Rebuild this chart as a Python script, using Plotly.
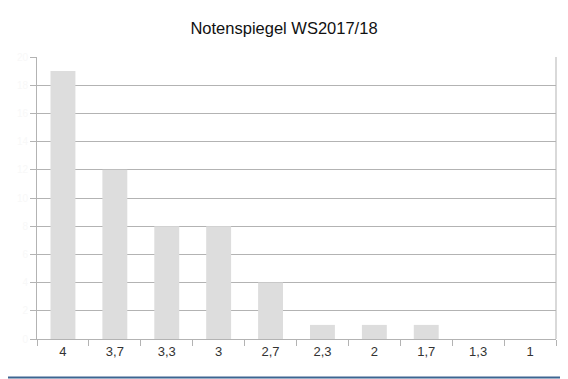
import plotly.graph_objects as go

grades = ["4", "3,7", "3,3", "3", "2,7", "2,3", "2", "1,7", "1,3", "1"]
counts = [19, 12, 8, 8, 4, 1, 1, 1, 0, 0]
y_ticks = list(range(0, 22, 2))

# the page body has an 8px margin, so the figure is 8px smaller and offset
OFF = 8
W, H = 568 - OFF, 379 - OFF
L, T = 37 - OFF, 57 - OFF
R = W - (556 - OFF)
B = H - (339 - OFF)
pw, ph = W - L - R, H - T - B

def px_x(x):
    return (x - OFF - L) / pw

def px_y(y):
    return (H - B - (y - OFF)) / ph

fig = go.Figure(go.Bar(
    x=grades, y=counts,
    marker=dict(color="#dddddd", line=dict(width=0)),
    hoverinfo="x+y",
))

fig.update_layout(
    width=W, height=H,
    margin=dict(l=L, r=R, t=T, b=B, autoexpand=False),
    paper_bgcolor="white", plot_bgcolor="white",
    bargap=0.52,
    showlegend=False,
    title=dict(text="Notenspiegel WS2017/18", x=px_x(284), xanchor="center", xref="paper",
               y=1 - (28 - OFF) / H, yanchor="middle",
               font=dict(family="Liberation Sans, Arial, sans-serif", size=16.5, color="#111111")),
    font=dict(family="Liberation Sans, Arial, sans-serif"),
    xaxis=dict(
        type="category", tickson="boundaries", ticks="outside", ticklen=6,
        tickcolor="#b3b3b3", showgrid=False, showline=True, linecolor="#b3b3b3",
        tickfont=dict(size=13, color="#333333"), automargin=False,
    ),
    yaxis=dict(
        range=[0, 20], tickvals=y_ticks, ticks="outside", ticklen=6,
        tickcolor="#b3b3b3", showgrid=True, gridcolor="#b3b3b3", gridwidth=1,
        showline=True, linecolor="#b3b3b3", zeroline=False,
        tickfont=dict(size=10, color="#f8f8f8"), automargin=False,
    ),
    shapes=[
        dict(type="line", xref="paper", yref="paper", x0=1, x1=1, y0=0, y1=1,
             line=dict(color="#b3b3b3", width=1)),
        dict(type="line", xref="paper", yref="paper", x0=px_x(565.5), x1=px_x(565.5),
             y0=px_y(379), y1=px_y(OFF), line=dict(color="#3d6591", width=2)),
        dict(type="line", xref="paper", yref="paper", x0=px_x(OFF), x1=px_x(568),
             y0=px_y(377.5), y1=px_y(377.5), line=dict(color="#3d6591", width=2)),
    ],
)

fig.write_html("out.html")
